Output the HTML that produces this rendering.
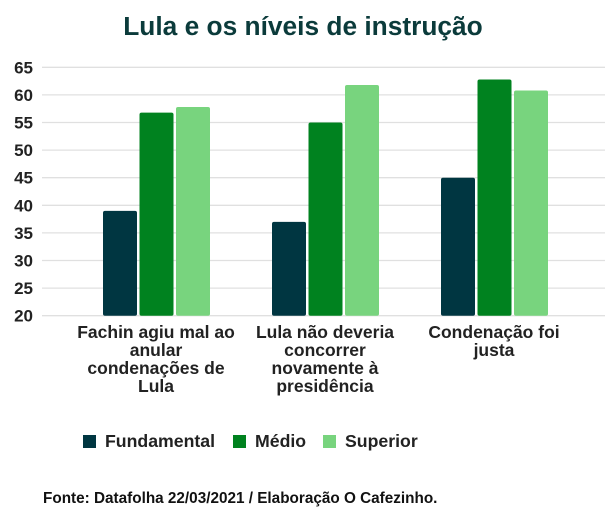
<!DOCTYPE html>
<html><head><meta charset="utf-8"><style>
body{margin:0;background:#fff;font-family:"Liberation Sans",sans-serif;}
svg text{font-family:"Liberation Sans",sans-serif;}
</style></head><body>
<svg id="chart" width="614" height="511" viewBox="0 0 614 511" xmlns="http://www.w3.org/2000/svg">
<text x="303" y="35" text-anchor="middle" font-size="26.3" font-weight="bold" fill="#0b3b3b">Lula e os níveis de instrução</text>
<g id="grid"></g><g id="bars"></g><g id="xlabels"></g>
<g id="legend"></g>
<text x="43" y="503" font-size="15.3" font-weight="bold" fill="#111">Fonte: Datafolha 22/03/2021 / Elaboração O Cafezinho.</text>
</svg>
<script>
const categories=[["Fachin agiu mal ao","anular","condenações de","Lula"],["Lula não deveria","concorrer","novamente à","presidência"],["Condenação foi","justa"]];
const seriesNames=["Fundamental","Médio","Superior"];
const fundamental=[39,37,45];
const medio=[56.8,55,62.8];
const superior=[57.8,61.8,60.8];
const yTicks=[20,25,30,35,40,45,50,55,60,65];
const colors=["#003641","#00821f","#78d47e"];
const NS="http://www.w3.org/2000/svg";
const y=v=>315.7-(v-20)*(248.4/45);
const cx=i=>156+i*169;
function mk(t,a,p){const e=document.createElementNS(NS,t);for(const k in a)e.setAttribute(k,a[k]);p.appendChild(e);return e;}
const grid=document.getElementById('grid');
yTicks.forEach(t=>{
 const l=mk('line',{x1:42,x2:605,y1:y(t),y2:y(t),stroke:'#e0e0e0','stroke-width':1.3},grid);
 
 
 const tx=mk('text',{x:33,y:y(t)+6,'text-anchor':'end','font-size':17,'font-weight':'bold',fill:'#222'},grid);
 tx.textContent=t;
 
 
});
const series=[fundamental,medio,superior];
const bars=document.getElementById('bars');
series.forEach((s,si)=>s.forEach((v,ci)=>{
 const x=cx(ci)-53+si*36.5;
 const r=mk('rect',{x:x,y:y(v),width:34,height:y(20)-y(v),rx:2,fill:colors[si]},bars);
 
 
}));
const xl=document.getElementById('xlabels');
categories.forEach((lines,ci)=>{
 const t=mk('text',{x:cx(ci),y:338,'text-anchor':'middle','font-size':17.5,'font-weight':'bold',fill:'#222'},xl);
 
 
 lines.forEach((ln,li)=>{const ts=mk('tspan',{x:cx(ci),dy:li?18:0},t);ts.textContent=ln;});
});
const lg=document.getElementById('legend');
const lx=[83,233,323];
seriesNames.forEach((n,i)=>{
 const r=mk('rect',{x:lx[i],y:435,width:13,height:13,fill:colors[i]},lg);
 
 
 const t=mk('text',{x:lx[i]+22,y:447,'font-size':17.7,'font-weight':'bold',fill:'#222'},lg);
 t.textContent=n;
 
 
});
</script>
</body></html>
